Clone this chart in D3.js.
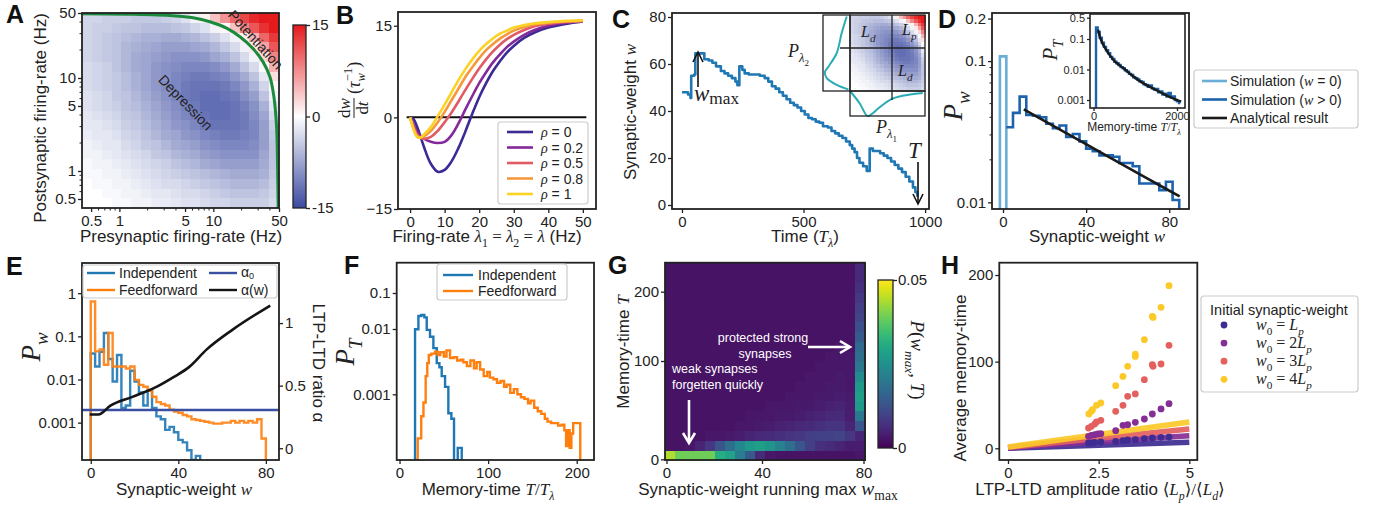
<!DOCTYPE html>
<html><head><meta charset="utf-8">
<script src="https://cdn.jsdelivr.net/npm/d3@7/dist/d3.min.js"></script>
<style>html,body{margin:0;padding:0;background:#fff;}svg{display:block}</style>
</head><body>
<svg id="fig" width="1383" height="508" xmlns="http://www.w3.org/2000/svg"></svg>
<script>
// ======================= DATA =======================
// ---- Panel A : dw/dt over (pre, post) rates, rows top (50 Hz) -> bottom (0.4 Hz)
const aRange = [0.4, 50];
const aTicks = [0.5, 1, 5, 10, 50];
const aTickLabels = ["0.5", "1", "5", "10", "50"];
const aMinorTicks = [0.6, 0.7, 0.8, 0.9, 2, 3, 4, 6, 7, 8, 9, 20, 30, 40];
const aGrid = [
 [-3.5,-3.5,-4,-4,-4,-4.5,-4.5,-4.5,-4,-3.5,-2.5,-1,1,4,7,10,12,14,15,15],
 [-3.5,-4,-4,-4.5,-5,-5,-5.5,-5.5,-5.5,-5,-4.5,-3.5,-2.5,-1,0.5,4,8,11,13.5,15],
 [-3.5,-4,-4.5,-5,-5.5,-6,-6.5,-6.5,-7,-7,-6.5,-6,-5,-4,-2.5,-1,1,5,10,13],
 [-3.5,-4,-4.5,-5,-6,-6.5,-7,-7.5,-8,-8,-8,-7.5,-7,-6,-4.5,-3,-1,1.5,6,11],
 [-3.5,-4,-4.5,-5,-6,-7,-7.5,-8,-8.5,-9,-9,-9,-8.5,-7.5,-6.5,-5,-3,-1,2.5,8],
 [-3,-3.5,-4,-5,-6,-7,-7.5,-8.5,-9,-9.5,-10,-10,-10,-9.5,-8.5,-7,-5,-3,-0.5,5],
 [-3,-3.5,-4,-4.5,-5.5,-6.5,-7.5,-8.5,-9,-10,-10.5,-11,-11,-10.5,-10,-8.5,-7,-5,-2,2],
 [-3,-3.5,-4,-4.5,-5.5,-6.5,-7.5,-8.5,-9.5,-10,-11,-11.5,-11.5,-11.5,-11,-10,-8.5,-6.5,-3.5,0.5],
 [-2.5,-3,-3.5,-4.5,-5,-6,-7,-8,-9,-10,-11,-11.5,-12,-12,-11.5,-11,-9.5,-8,-5,-1],
 [-2.5,-3,-3.5,-4,-5,-5.5,-6.5,-7.5,-8.5,-9.5,-10.5,-11,-12,-12,-12,-11.5,-10.5,-9,-6.5,-2],
 [-2,-2.5,-3,-3.5,-4.5,-5,-6,-7,-8,-9,-10,-10.5,-11.5,-12,-12,-11.5,-11,-9.5,-7.5,-3],
 [-2,-2,-2.5,-3,-4,-4.5,-5.5,-6.5,-7.5,-8.5,-9,-10,-11,-11.5,-11.5,-11.5,-11,-10,-8,-4],
 [-1.5,-2,-2,-2.5,-3.5,-4,-5,-6,-7,-7.5,-8.5,-9,-10,-10.5,-11,-11,-10.5,-10,-8,-4.5],
 [-1,-1.5,-2,-2,-3,-3.5,-4.5,-5,-6,-7,-7.5,-8,-9,-9.5,-10,-10,-10,-9.5,-8,-5],
 [-1,-1,-1.5,-2,-2.5,-3,-3.5,-4.5,-5,-6,-6.5,-7,-8,-8.5,-9,-9,-9,-9,-7.5,-5],
 [-0.5,-1,-1,-1.5,-2,-2.5,-3,-3.5,-4,-5,-5.5,-6,-7,-7.5,-8,-8,-8,-8,-7,-5],
 [-0.5,-0.5,-1,-1,-1.5,-2,-2.5,-3,-3.5,-4,-4.5,-5,-5.5,-6,-6.5,-7,-7,-7,-6.5,-4.5],
 [0,-0.5,-0.5,-1,-1,-1.5,-2,-2.5,-3,-3,-3.5,-4,-4.5,-5,-5.5,-6,-6,-6,-5.5,-4],
 [0,0,-0.5,-0.5,-1,-1,-1.5,-2,-2,-2.5,-3,-3,-3.5,-4,-4.5,-5,-5,-5,-4.5,-3.5],
 [0,0,0,-0.5,-0.5,-1,-1,-1.5,-1.5,-2,-2.5,-2.5,-3,-3.5,-3.5,-4,-4,-4,-4,-3]
];
const aZeroPre  = [0.4, 1.4, 3.7, 6.1, 9.2, 14, 19.2, 26.4, 33.7, 40, 44.1, 47.1, 48.3, 49];
const aZeroPost = [49, 48.4, 46.8, 44.5, 40.3, 34.2, 27.8, 20.8, 15, 10.3, 6.3, 3.0, 1.1, 0.4];
const aCbarTicks = [-15, 0, 15];
const aCbarLabels = ["-15", "0", "15"];

// ---- Panel B
const bRate = [0,1,2,3,4,6,8,10,12,14,16,18,20,22,24,26,28,30,33,36,40,45,50];
const bRho = ["0", "0.2", "0.5", "0.8", "1"];
const bCurves = [
 [0,-0.3,-1.5,-3.1,-4.8,-7.6,-8.9,-8.6,-7.2,-5,-2.3,0.6,3.3,5.6,7.6,9.2,10.6,11.7,13,13.9,14.7,15.3,15.7],
 [0,-1.2,-2.3,-3,-3.5,-4,-4.2,-4,-2.9,-1,1.3,3.5,5.6,7.4,9,10.3,11.5,12.4,13.5,14.3,15,15.5,15.8],
 [0,-1.5,-2.8,-3.4,-3.5,-3.2,-2.2,-0.8,0.8,2.6,4.5,6.3,8,9.5,10.8,11.9,12.8,13.5,14.3,14.9,15.3,15.6,15.8],
 [0,-1.8,-3,-3.3,-3.1,-2.2,-0.8,0.9,2.8,4.7,6.6,8.2,9.7,11,12,12.9,13.6,14.2,14.8,15.2,15.5,15.7,15.8],
 [0,-2,-3.2,-3.3,-2.8,-1.6,0.2,2.1,4.1,6.1,7.9,9.5,10.9,12,12.9,13.7,14.2,14.7,15.1,15.4,15.6,15.8,15.9]
];
const bXTicks = [0, 10, 20, 30, 40, 50];
const bYTicks = [-15, 0, 15];
const bZeroSpan = [-1, 51];

// ---- Panel C
const cTime = [0,15,25,35,38,50,55,62,85,92,110,125,140,160,175,190,205,220,228,236,248,258,275,300,320,340,355,370,385,400,415,430,445,460,475,490,505,520,535,550,565,580,600,615,630,645,660,675,690,700,710,720,730,745,760,772,785,800,815,830,845,860,875,890,905,920,935,950,960,968];
const cWeight = [48,48,47,45.5,55,55.5,64.5,64.5,64.5,62,61.5,60.5,59,57,56,55,54,52.5,51,59,57.5,56,55.5,55.5,55,54,52.5,50.5,49.5,48,46.5,45,43.5,42.5,41.5,40,38.5,37,36.5,35.5,35,33.5,33,31.5,30.5,29.5,28.5,27,25.5,24,22.5,20,18,16.5,14.5,24,23,23,22,21,20,18.5,17,15.5,14,12,10,7.5,5.5,3.5];
const cXTicks = [0, 500, 1000];
const cYTicks = [0, 20, 40, 60, 80];
const cPl1U = [0, 0.13, 0.22, 0.25, 0.3, 0.4, 0.57, 0.8, 0.97];
const cPl1D = [0, 0.5, 0.97, 1.0, 0.9, 0.64, 0.3, 0.14, 0.08];
const cPl2V = [0.02, 0.24, 0.5, 0.68, 0.75, 0.83, 0.92, 0.98];
const cPl2D = [0.12, 0.31, 0.49, 0.8, 0.93, 0.86, 0.49, 0.06];

// ---- Panel D
const dZeroEdges = [-1.5, 1.6];
const dZeroValue = 0.108;
const dEdges = [1.6,4.8,8,11.2,14.4,17.6,20.8,24,27.2,30.4,33.6,36.8,40,43.2,46.4,49.6,52.8,56,59.2,62.4,65.6,68.8,72,75.2,78.4,81.6,84.8];
const dValues = [0.034,0.043,0.056,0.0415,0.041,0.040,0.036,0.0335,0.035,0.029,0.0305,0.027,0.024,0.023,0.0215,0.0215,0.021,0.019,0.019,0.018,0.0136,0.0136,0.0136,0.0122,0.014,0.0104];
const dFitW = [10, 30, 50, 70, 85];
const dFitP = [0.0455, 0.0312, 0.0213, 0.0146, 0.011];
const dXTicks = [0, 40, 80];
const dYTicks = [0.01, 0.1, 0.2];
const dYLabels = ["0.01", "0.1", "0.2"];
const dYMinor = [0.02,0.03,0.04,0.05,0.06,0.07,0.08,0.09];
const dInT = [60,100,150,200,250,300,350,400,450,500,550,600,650,700,750,800,850,900,950,1000,1050,1100,1150,1200,1250,1300,1350,1400,1450,1500,1550,1600,1650,1700,1750,1800,1850,1900,1950,2000,2050,2080];
const dInP = [0.24,0.17,0.11,0.075,0.055,0.043,0.034,0.026,0.022,0.018,0.016,0.014,0.012,0.011,0.0095,0.0085,0.0072,0.0066,0.0056,0.0052,0.0047,0.0041,0.0039,0.0033,0.0031,0.0027,0.0030,0.0024,0.0022,0.0023,0.0018,0.0019,0.0015,0.0016,0.0013,0.0017,0.0012,0.0013,0.0010,0.0009,0.0008];
const dInFitT = [110,150,200,300,400,500,600,700,800,900,1000,1200,1400,1600,1800,2000,2100];
const dInFitP = [0.2,0.12,0.08,0.045,0.028,0.019,0.0145,0.0115,0.0088,0.0068,0.0053,0.0035,0.0025,0.0018,0.0013,0.001,0.00088];
const dInYTicks = [0.5, 0.1, 0.01, 0.001];
const dInYLabels = ["0.5", "0.1", "0.01", "0.001"];
const dInXTicks = [0, 2000];

// ---- Panel E
const eBinWidth = 2;
const eIndependent = [0.04,0.02,0.044,0.12,0.03,0.009,0.037,0.0022,0.0025,0.016,0.009,0.005,0.0025,0.0057,0.0022,0.0014,0.0012,0.00068,0.0008,0.0006,0.0004,0.00035,0.00023,0.00013,0.00017];
const eFeedforward = [0.64,0.045,0.05,0.022,0.12,0.02,0.02,0.02,0.018,0.02,0.0098,0.0075,0.0068,0.0055,0.004,0.003,0.0027,0.0025,0.002,0.0018,0.0017,0.0015,0.0014,0.0012,0.00115,0.0011,0.00105,0.001,0.00095,0.00095,0.001,0.001,0.0011,0.001,0.0011,0.001,0.0011,0.001,0.0012,0.00043];
const eAlpha0 = 0.306;
const eAlphaW = [-0.5, 3.5, 9, 19, 30, 38, 45, 53, 65, 82];
const eAlpha  = [0.27, 0.27, 0.34, 0.41, 0.49, 0.57, 0.65, 0.79, 0.95, 1.14];
const eXTicks = [0, 40, 80];
const eYTicks = [1, 0.1, 0.01, 0.001];
const eYLabels = ["1", "0.1", "0.01", "0.001"];
const eY2Ticks = [0, 0.5, 1];

// ---- Panel F
const fIndT = [17.5,21.3,24.5,28,30.7,34.4,38.2,42,45,47.6,51.4,55.1,58.5,61.5];
const fIndP = [0.0099,0.023,0.0245,0.021,0.0097,0.0076,0.0051,0.0030,0.0026,0.0019,0.0013,0.00051,0.00042];
const fIndBlipT = [65.7, 70.2];
const fIndBlipP = 0.00015;
const fFfT = [20.5,24.5,27,29.5,31.3,33,36,40,43,46,50,53,57,61,65,69,72,76,80,84,87,91,95,99,102,106,110,114,118,121,125,129,133,137,141,145,148,152,156,160,164,167,171,175,179,183,186,188,190,192,194,196,200,204];
const fFfP = [0.00021,0.00046,0.00075,0.0019,0.0030,0.0040,0.0042,0.0045,0.0040,0.0044,0.0038,0.0047,0.0036,0.0037,0.0033,0.0034,0.0031,0.0027,0.0033,0.0025,0.0031,0.0024,0.0019,0.0022,0.0018,0.0017,0.0015,0.0016,0.0013,0.0014,0.00105,0.0012,0.001,0.0009,0.00085,0.00073,0.0008,0.00062,0.00055,0.0005,0.00042,0.00038,0.00036,0.00036,0.00033,0.00034,0.00028,0.00016,0.00028,0.00015,0.00025,0.00036,0.00036];
const fXTicks = [0, 100, 200];
const fYTicks = [0.1, 0.01, 0.001];
const fYLabels = ["0.1", "0.01", "0.001"];

// ---- Panel G : P(w_max, T) in units of 0.001, rows bottom (T=0) -> top
const gGrid = [
 [44,39,39,39,39,31,29,21,14,6,3,2.5,2.5,2.5,2.5,2.5,2.5,2.5,2.5,3],
 [2.5,2.5,3,5,8,13,18,23,27,28,26,22,18,13,9,7,6,5,4,4],
 [2.5,2.5,2.5,2.5,3,3,3.5,4,5,5.5,6,7,7.5,8,9,9.5,9.5,10,8,5],
 [2.5,2.5,2.5,2.5,2.5,2.5,2.5,3,3,3.5,4,4.5,5,5.5,6,7,7.5,7.5,5,13],
 [2.5,2.5,2.5,2.5,2.5,2.5,2.5,2.5,3,3,3,3.5,3.5,4,4.5,5,5.5,6,4,20],
 [2.5,2.5,2.5,2.5,2.5,2.5,2.5,2.5,2.5,2.5,3,3,3,3.5,3.5,4,4.5,5,4,27],
 [2.5,2.5,2.5,2.5,2.5,2.5,2.5,2.5,2.5,2.5,2.5,2.5,3,3,3,3.5,3.5,4,3.5,28],
 [2.5,2.5,2.5,2.5,2.5,2.5,2.5,2.5,2.5,2.5,2.5,2.5,2.5,3,3,3,3.5,3.5,3,27],
 [2.5,2.5,2.5,2.5,2.5,2.5,2.5,2.5,2.5,2.5,2.5,2.5,2.5,2.5,3,3,3,3.5,3,24],
 [2.5,2.5,2.5,2.5,2.5,2.5,2.5,2.5,2.5,2.5,2.5,2.5,2.5,2.5,2.5,3,3,3,3,20],
 [2.5,2.5,2.5,2.5,2.5,2.5,2.5,2.5,2.5,2.5,2.5,2.5,2.5,2.5,2.5,2.5,3,3,3,18],
 [2.5,2.5,2.5,2.5,2.5,2.5,2.5,2.5,2.5,2.5,2.5,2.5,2.5,2.5,2.5,2.5,2.5,3,2.5,17],
 [2.5,2.5,2.5,2.5,2.5,2.5,2.5,2.5,2.5,2.5,2.5,2.5,2.5,2.5,2.5,2.5,2.5,2.5,2.5,14],
 [2.5,2.5,2.5,2.5,2.5,2.5,2.5,2.5,2.5,2.5,2.5,2.5,2.5,2.5,2.5,2.5,2.5,2.5,2.5,12],
 [2.5,2.5,2.5,2.5,2.5,2.5,2.5,2.5,2.5,2.5,2.5,2.5,2.5,2.5,2.5,2.5,2.5,2.5,2.5,10],
 [2.5,2.5,2.5,2.5,2.5,2.5,2.5,2.5,2.5,2.5,2.5,2.5,2.5,2.5,2.5,2.5,2.5,2.5,2.5,9],
 [2.5,2.5,2.5,2.5,2.5,2.5,2.5,2.5,2.5,2.5,2.5,2.5,2.5,2.5,2.5,2.5,2.5,2.5,2.5,8],
 [2.5,2.5,2.5,2.5,2.5,2.5,2.5,2.5,2.5,2.5,2.5,2.5,2.5,2.5,2.5,2.5,2.5,2.5,2.5,7],
 [2.5,2.5,2.5,2.5,2.5,2.5,2.5,2.5,2.5,2.5,2.5,2.5,2.5,2.5,2.5,2.5,2.5,2.5,2.5,6],
 [2.5,2.5,2.5,2.5,2.5,2.5,2.5,2.5,2.5,2.5,2.5,2.5,2.5,2.5,2.5,2.5,2.5,2.5,2.5,6]
];
const gXTicks = [0, 40, 80];
const gYTicks = [0, 100, 200];
const gCbarTicks = [0, 50];
const gCbarLabels = ["0", "0.05"];

// ---- Panel H
const hSeriesNames = ["L", "2L", "3L", "4L"];
const hX = [
 [2.22,2.30,2.39,2.56,2.97,3.17,3.30,3.51,3.76,3.98,4.22,4.44],
 [2.22,2.30,2.39,2.48,2.56,2.97,3.17,3.30,3.51,3.76,3.98,4.22,4.44],
 [2.22,2.30,2.39,2.44,2.56,2.97,3.17,3.30,3.51,3.76,3.98,4.0,4.22,4.44],
 [2.23,2.30,2.33,2.44,2.56,2.97,3.17,3.30,3.51,3.51,3.76,3.98,4.0,4.22,4.44]
];
const hY = [
 [6.1,6.1,6.9,7.3,8.1,8.8,9.6,10,11.1,11.9,12.7,13],
 [13.8,15,15.7,16.5,16.9,20.3,26.5,27.2,30,33.8,39.6,45.4,51.5],
 [23.4,25.4,28,30.4,32.3,42.7,49.6,60,62.7,79.2,96.5,94.6,97.3,118.9],
 [39.6,42.7,44.6,49.6,52.3,72.3,83,94.6,106,108.8,125.4,152.3,151,162.7,187.7]
];
const hLineX = [0, 5];
const hLineY = [[0, 6.9], [0.5, 14.6], [1, 22.3], [1.5, 30.4]];
const hXTicks = [0, 2.5, 5];
const hXLabels = ["0", "2.5", "5"];
const hYTicks = [0, 100, 200];

// ======================= STYLE =======================
const SANS = "'Liberation Sans', Arial, Helvetica, sans-serif";
const SERIF = "'Liberation Serif', 'DejaVu Serif', 'Times New Roman', serif";
const INK = "#222";
const bColors = ["#3c2a95", "#84299a", "#e05b66", "#f6993c", "#fcd225"];
const hColors = ["#3e2c93", "#852e96", "#e3605e", "#fbc928"];
const BLUE = "#1f77b4", ORANGE = "#ff7f0e";
const intFmt = d3.format('d');

// ======================= HELPERS =======================
const svg = d3.select('#fig');
svg.append('rect').attr('width', 1383).attr('height', 508).attr('fill', '#fff');
const defs = svg.append('defs');
let clipN = 0;
function clip(x0, y0, x1, y1) {
  const id = 'clip' + (clipN++);
  defs.append('clipPath').attr('id', id).append('rect')
    .attr('x', x0).attr('y', y0).attr('width', x1 - x0).attr('height', y1 - y0);
  return `url(#${id})`;
}
function frame(g, x0, y0, x1, y1, w = 1.8) {
  g.append('rect').attr('x', x0).attr('y', y0).attr('width', x1 - x0).attr('height', y1 - y0)
    .attr('fill', 'none').attr('stroke', INK).attr('stroke-width', w);
}
function axis(g, gen, tx, ty, fs = 15) {
  const a = g.append('g').attr('transform', `translate(${tx},${ty})`).call(gen);
  a.attr('font-size', fs).attr('font-family', SANS);
  a.select('.domain').remove();
  a.selectAll('.tick line').attr('stroke', INK).attr('stroke-width', 1.3);
  a.selectAll('.tick text').attr('fill', INK);
  return a;
}
function rich(parent, x, y, parts, o = {}) {
  const fs = o.size || 15;
  const t = parent.append('text').attr('x', x).attr('y', y)
    .attr('font-size', fs).attr('font-family', o.serif ? SERIF : SANS)
    .attr('text-anchor', o.anchor || 'start').attr('fill', o.fill || INK);
  if (o.weight) t.attr('font-weight', o.weight);
  let cur = 0;
  parts.forEach(p => {
    if (typeof p === 'string') p = { t: p };
    const off = p.off !== undefined ? p.off * fs : p.sub ? 0.3 * fs : p.sup ? -0.42 * fs : 0;
    const ts = t.append('tspan').text(p.t).attr('dy', (off - cur).toFixed(2));
    cur = off;
    if (p.k) ts.attr('font-size', fs * p.k);
    else if (p.sub || p.sup) ts.attr('font-size', fs * 0.7);
    if (p.it) ts.attr('font-style', 'italic');
    if (p.m) ts.attr('font-family', SERIF);
    if (p.s) ts.attr('font-family', SANS);
    if (p.dx) ts.attr('dx', p.dx);
  });
  return t;
}
const M = (t, e = {}) => Object.assign({ t, m: 1, it: 1 }, e);
function rotLabel(parent, x, y, angle, parts, o) {
  const g = parent.append('g').attr('transform', `translate(${x},${y}) rotate(${angle})`);
  return rich(g, 0, 0, parts, Object.assign({ anchor: 'middle' }, o));
}
function panelLetter(t, x, y) {
  svg.append('text').attr('x', x).attr('y', y).text(t).attr('font-family', SANS)
    .attr('font-weight', 'bold').attr('font-size', 25).attr('fill', '#111');
}
function stepPts(edges, vals, floor) {
  const pts = [[edges[0], floor]];
  vals.forEach((v, i) => { pts.push([edges[i], v]); pts.push([edges[i + 1], v]); });
  pts.push([edges[edges.length - 1], floor]);
  return pts;
}
function hLine(g, x1, x2, y, color, w) {
  g.append('line').attr('x1', x1).attr('x2', x2).attr('y1', y).attr('y2', y)
    .attr('stroke', color).attr('stroke-width', w);
}

// ======================= PANEL A =======================
{
  const g = svg.append('g');
  const x = d3.scaleLog().domain(aRange).range([82, 279]);
  const y = d3.scaleLog().domain(aRange).range([208, 13]);
  const col = d3.scaleLinear().domain([-15, 0, 15]).range(["#3b4aa0", "#ffffff", "#e41a1c"]).clamp(true);
  const n = aGrid.length;
  const edges = d3.range(n + 1).map(k => aRange[0] * Math.pow(aRange[1] / aRange[0], k / n));
  const cells = [];
  aGrid.forEach((row, r) => row.forEach((v, c) => cells.push({ r: n - 1 - r, c, v })));
  g.append('g').attr('clip-path', clip(82, 13, 279, 208)).attr('shape-rendering', 'crispEdges')
    .selectAll('rect').data(cells).join('rect')
    .attr('x', d => x(edges[d.c])).attr('y', d => y(edges[d.r + 1]))
    .attr('width', d => x(edges[d.c + 1]) - x(edges[d.c]) + 0.7)
    .attr('height', d => y(edges[d.r]) - y(edges[d.r + 1]) + 0.7)
    .attr('fill', d => col(d.v));
  g.append('path').attr('clip-path', clip(82, 13, 280, 208))
    .datum(aZeroPre.map((p, i) => [p, aZeroPost[i]]))
    .attr('d', d3.line().x(d => x(d[0])).y(d => y(d[1])).curve(d3.curveCatmullRom))
    .attr('fill', 'none').attr('stroke', '#1b8a3c').attr('stroke-width', 3);
  g.append('text').attr('transform', 'translate(182,106) rotate(46)').attr('text-anchor', 'middle')
    .attr('font-family', SANS).attr('font-size', 14).attr('fill', INK).text('Depression');
  g.append('text').attr('transform', 'translate(252,43) rotate(48)').attr('text-anchor', 'middle')
    .attr('font-family', SANS).attr('font-size', 14).attr('fill', INK).text('Potentiation');
  frame(g, 82, 13, 279, 208);
  axis(g, d3.axisBottom(x).tickValues(aTicks).tickFormat((d, i) => aTickLabels[i]).tickSize(4).tickPadding(3), 0, 208);
  axis(g, d3.axisLeft(y).tickValues(aTicks).tickFormat((d, i) => aTickLabels[i]).tickSize(4).tickPadding(2), 82, 0);
  aMinorTicks.forEach(v => {
    g.append('line').attr('x1', x(v)).attr('x2', x(v)).attr('y1', 208).attr('y2', 210.5).attr('stroke', INK).attr('stroke-width', 1);
    g.append('line').attr('y1', y(v)).attr('y2', y(v)).attr('x1', 79.5).attr('x2', 82).attr('stroke', INK).attr('stroke-width', 1);
  });
  rich(g, 181, 242, ['Presynaptic firing-rate (Hz)'], { size: 17, anchor: 'middle' });
  rotLabel(g, 46, 118, -90, ['Postsynaptic firing-rate (Hz)'], { size: 17 });
  // colorbar
  const cb = d3.scaleLinear().domain([-15, 15]).range([208, 25]);
  const grad = defs.append('linearGradient').attr('id', 'gradA').attr('x1', 0).attr('y1', 1).attr('x2', 0).attr('y2', 0);
  d3.range(0, 1.0001, 0.05).forEach(t => grad.append('stop').attr('offset', t).attr('stop-color', col(-15 + 30 * t)));
  g.append('rect').attr('x', 293).attr('y', 25).attr('width', 13).attr('height', 183).attr('fill', 'url(#gradA)');
  frame(g, 293, 25, 306, 208, 1.3);
  axis(g, d3.axisRight(cb).tickValues(aCbarTicks).tickFormat((d, i) => aCbarLabels[i]).tickSize(4).tickPadding(2), 306, 0);
}
panelLetter('A', 6, 23);

// ======================= PANEL B =======================
{
  const g = svg.append('g');
  const x = d3.scaleLinear().domain([-3.5, 53.8]).range([398, 596]);
  const y = d3.scaleLinear().domain([-15, 17.25]).range([209, 12]);
  const cp = clip(398, 12, 596, 209);
  g.append('line').attr('x1', x(bZeroSpan[0])).attr('x2', x(bZeroSpan[1])).attr('y1', y(0)).attr('y2', y(0))
    .attr('stroke', '#111').attr('stroke-width', 2);
  const line = d3.line().x((d, i) => x(bRate[i])).y(d => y(d)).curve(d3.curveCatmullRom);
  bCurves.forEach((c, k) => {
    g.append('path').attr('clip-path', cp).datum(c).attr('d', line).attr('fill', 'none')
      .attr('stroke', bColors[k]).attr('stroke-width', 2.6);
  });
  frame(g, 398, 12, 596, 209);
  axis(g, d3.axisBottom(x).tickValues(bXTicks).tickFormat(intFmt).tickSize(4).tickPadding(3), 0, 209);
  axis(g, d3.axisLeft(y).tickValues(bYTicks).tickFormat(intFmt).tickSize(4).tickPadding(2), 398, 0);
  // legend
  g.append('rect').attr('x', 498).attr('y', 122).attr('width', 90).attr('height', 82).attr('rx', 3)
    .attr('fill', '#fff').attr('fill-opacity', 0.9).attr('stroke', '#ccc').attr('stroke-width', 1.2);
  bRho.forEach((r, k) => {
    const yy = 132 + 15.5 * k;
    hLine(g, 507, 533, yy, bColors[k], 2.6);
    rich(g, 541, yy + 5, [M('ρ'), ' = ' + r], { size: 14 });
  });
  // y label: dw/dt (tau_w^-1)
  const gl = g.append('g').attr('transform', 'translate(354,108) rotate(-90)');
  gl.append('line').attr('x1', -10).attr('x2', 10).attr('y1', 0).attr('y2', 0).attr('stroke', INK).attr('stroke-width', 1);
  rich(gl, 0, -4, [{ t: 'd', m: 1 }, M('w')], { size: 17, anchor: 'middle' });
  rich(gl, 0, 14, [{ t: 'd', m: 1 }, M('t')], { size: 17, anchor: 'middle' });
  rich(gl, 14, 6, [{ t: '(', m: 1 }, M('τ'), M('w', { sub: 1 }), { t: '−1', m: 1, sup: 1, dx: -8 }, { t: ')', m: 1 }], { size: 18 });
  rich(g, 487, 242, ['Firing-rate ', M('λ'), { t: '1', m: 1, sub: 1 }, { t: ' = ', m: 1 }, M('λ'), { t: '2', m: 1, sub: 1 }, { t: ' = ', m: 1 }, M('λ'), ' (Hz)'], { size: 17, anchor: 'middle' });
}
panelLetter('B', 336, 24);

// ======================= PANEL C =======================
{
  const g = svg.append('g');
  const x = d3.scaleLinear().domain([-41, 1016]).range([672, 929]);
  const y = d3.scaleLinear().domain([-1.7, 81.7]).range([209, 13]);
  g.append('path').attr('clip-path', clip(672, 13, 929, 209))
    .datum(cTime.map((t, i) => [t, cWeight[i]]))
    .attr('d', d3.line().x(d => x(d[0])).y(d => y(d[1])).curve(d3.curveStepAfter))
    .attr('fill', 'none').attr('stroke', BLUE).attr('stroke-width', 2.6).attr('stroke-linejoin', 'round');
  frame(g, 672, 13, 929, 209);
  axis(g, d3.axisBottom(x).tickValues(cXTicks).tickFormat(intFmt).tickSize(4).tickPadding(3), 0, 209);
  axis(g, d3.axisLeft(y).tickValues(cYTicks).tickFormat(intFmt).tickSize(4).tickPadding(2), 672, 0);
  rotLabel(g, 636, 112, -90, ['Synaptic-weight ', M('w')], { size: 17 });
  rich(g, 805, 242, ['Time (', M('T'), M('λ', { sub: 1 }), ')'], { size: 17, anchor: 'middle' });
  // arrows
  g.append('line').attr('x1', 698).attr('x2', 698).attr('y1', 87).attr('y2', 53).attr('stroke', '#111').attr('stroke-width', 1.6);
  g.append('path').attr('d', 'M693,62 L698,52 L703,62').attr('fill', 'none').attr('stroke', '#111').attr('stroke-width', 1.6);
  rich(g, 694, 101, [M('w', { k: 1 }), { t: 'max', m: 1, sub: 1, k: 0.75, off: 0.12 }], { size: 23 });
  g.append('line').attr('x1', 918).attr('x2', 918).attr('y1', 162).attr('y2', 203).attr('stroke', '#111').attr('stroke-width', 1.6);
  g.append('path').attr('d', 'M913,194 L918,204 L923,194').attr('fill', 'none').attr('stroke', '#111').attr('stroke-width', 1.6);
  rich(g, 908, 158, [M('T')], { size: 23 });
  // inset schematic
  const ib = d3.scaleBand().domain(d3.range(20)).range([850, 925]);
  const ibY = d3.scaleBand().domain(d3.range(20)).range([15, 91]);
  const col = d3.scaleLinear().domain([-15, 0, 15]).range(["#3b4aa0", "#ffffff", "#e41a1c"]).clamp(true);
  const cells = [];
  aGrid.forEach((row, r) => row.forEach((v, c) => cells.push({ r, c, v })));
  g.append('g').attr('shape-rendering', 'crispEdges').selectAll('rect').data(cells).join('rect')
    .attr('x', d => ib(d.c)).attr('y', d => ibY(d.r)).attr('width', ib.bandwidth() + 0.5).attr('height', ibY.bandwidth() + 0.5)
    .attr('fill', d => col(d.v));
  const p1x = d3.scaleLinear().domain([0, 1]).range([850, 925]);
  const p1y = d3.scaleLinear().domain([0, 1]).range([91, 116]);
  g.append('path').datum(cPl1U.map((u, i) => [u, cPl1D[i]]))
    .attr('d', d3.line().x(d => p1x(d[0])).y(d => p1y(d[1])).curve(d3.curveCatmullRom))
    .attr('fill', 'none').attr('stroke', '#2aabb5').attr('stroke-width', 2);
  const p2x = d3.scaleLinear().domain([0, 1]).range([850, 823]);
  const p2y = d3.scaleLinear().domain([0, 1]).range([15, 91]);
  g.append('path').datum(cPl2V.map((v, i) => [v, cPl2D[i]]))
    .attr('d', d3.line().x(d => p2x(d[1])).y(d => p2y(d[0])).curve(d3.curveCatmullRom))
    .attr('fill', 'none').attr('stroke', '#2aabb5').attr('stroke-width', 2);
  const lw = 1.3;
  frame(g, 823, 15, 850, 91, lw);
  frame(g, 850, 15, 925, 91, lw);
  frame(g, 850, 91, 925, 116, lw);
  g.append('line').attr('x1', 892).attr('x2', 892).attr('y1', 15).attr('y2', 100).attr('stroke', INK).attr('stroke-width', lw);
  g.append('line').attr('x1', 840).attr('x2', 925).attr('y1', 48).attr('y2', 48).attr('stroke', INK).attr('stroke-width', lw);
  rich(g, 861, 37, [M('L'), M('d', { sub: 1 })], { size: 16 });
  rich(g, 902, 35, [M('L'), M('p', { sub: 1 })], { size: 16 });
  rich(g, 898, 76, [M('L'), M('d', { sub: 1 })], { size: 16 });
  rich(g, 788, 57, [M('P'), M('λ', { sub: 1 }), { t: '2', m: 1, off: 0.5, k: 0.5 }], { size: 18 });
  rich(g, 876, 133, [M('P'), M('λ', { sub: 1 }), { t: '1', m: 1, off: 0.5, k: 0.5 }], { size: 18 });
}
panelLetter('C', 612, 28);

// ======================= PANEL D =======================
{
  const g = svg.append('g');
  const x = d3.scaleLinear().domain([-5.3, 89.5]).range([992, 1189]);
  const y = d3.scaleLog().domain([0.00897, 0.219]).range([209, 13]).clamp(true);
  const cp = clip(992, 13, 1189, 209);
  const ln = d3.line().x(d => x(d[0])).y(d => y(d[1]));
  g.append('path').attr('clip-path', cp).datum(stepPts(dZeroEdges, [dZeroValue], 1e-6))
    .attr('d', ln).attr('fill', 'none').attr('stroke', '#6aaed6').attr('stroke-width', 2.6);
  g.append('path').attr('clip-path', cp).datum(stepPts(dEdges, dValues, 1e-6).slice(1))
    .attr('d', ln).attr('fill', 'none').attr('stroke', '#1c62ad').attr('stroke-width', 2.6);
  g.append('path').attr('clip-path', cp).datum(dFitW.map((w, i) => [w, dFitP[i]]))
    .attr('d', ln.curve(d3.curveMonotoneX)).attr('fill', 'none').attr('stroke', '#1a1a1a').attr('stroke-width', 2.6);
  frame(g, 992, 13, 1189, 209);
  axis(g, d3.axisBottom(x).tickValues(dXTicks).tickFormat(intFmt).tickSize(4).tickPadding(3), 0, 209);
  axis(g, d3.axisLeft(y).tickValues(dYTicks).tickFormat((d, i) => dYLabels[i]).tickSize(4).tickPadding(2), 992, 0);
  dYMinor.forEach(v => g.append('line').attr('x1', 989.5).attr('x2', 992).attr('y1', y(v)).attr('y2', y(v)).attr('stroke', INK).attr('stroke-width', 1));
  rotLabel(g, 962, 106, -90, [M('P'), M('w', { sub: 1 })], { size: 27 });
  rich(g, 1097, 242, ['Synaptic-weight ', M('w')], { size: 17, anchor: 'middle' });
  // inset
  const ix = d3.scaleLinear().domain([-84, 2192]).range([1090, 1185]);
  const iy = d3.scaleLog().domain([0.000547, 0.66]).range([108, 14]).clamp(true);
  g.append('rect').attr('x', 1090).attr('y', 14).attr('width', 95).attr('height', 94).attr('fill', '#fff');
  const icp = clip(1090, 14, 1185, 108);
  const iln = d3.line().x(d => ix(d[0])).y(d => iy(d[1]));
  const bluePts = [[dInT[0], 1e-7]];
  dInP.forEach((p, i) => { bluePts.push([dInT[i], p]); bluePts.push([dInT[i + 1], p]); });
  g.append('path').attr('clip-path', icp).datum(bluePts).attr('d', iln)
    .attr('fill', 'none').attr('stroke', '#1c62ad').attr('stroke-width', 2.4);
  g.append('path').attr('clip-path', icp).datum(dInFitT.map((t, i) => [t, dInFitP[i]]))
    .attr('d', iln.curve(d3.curveMonotoneX)).attr('fill', 'none').attr('stroke', '#1a1a1a').attr('stroke-width', 2.4);
  frame(g, 1090, 14, 1185, 108, 1.6);
  axis(g, d3.axisLeft(iy).tickValues(dInYTicks).tickFormat((d, i) => dInYLabels[i]).tickSize(3).tickPadding(2), 1090, 0, 11);
  axis(g, d3.axisBottom(ix).tickValues(dInXTicks).tickFormat(intFmt).tickSize(3).tickPadding(1), 0, 108, 11);
  rotLabel(g, 1057, 50, -90, [M('P'), M('T', { sub: 1 })], { size: 21 });
  rich(g, 1134, 131, ['Memory-time ', M('T'), { t: '/', m: 1 }, M('T'), M('λ', { sub: 1 })], { size: 12, anchor: 'middle' });
  // legend
  g.append('rect').attr('x', 1194).attr('y', 70).attr('width', 164).attr('height', 58).attr('rx', 3)
    .attr('fill', '#fff').attr('stroke', '#ccc').attr('stroke-width', 1.2);
  const leg = [['#6aaed6', ['Simulation (', M('w'), ' = 0)']], ['#1c62ad', ['Simulation (', M('w'), ' > 0)']], ['#1a1a1a', ['Analytical result']]];
  leg.forEach((L, k) => {
    const yy = 81 + 18.5 * k;
    hLine(g, 1202, 1227, yy, L[0], 2.6);
    rich(g, 1230, yy + 5, L[1], { size: 14 });
  });
}
panelLetter('D', 938, 28);

// ======================= PANEL E =======================
{
  const g = svg.append('g');
  const x = d3.scaleLinear().domain([-4, 86]).range([82, 279]);
  const y = d3.scaleLog().domain([Math.pow(10, -3.865), Math.pow(10, 0.70)]).range([460, 263]).clamp(true);
  const y2 = d3.scaleLinear().domain([-0.094, 1.48]).range([460, 263]);
  const cp = clip(82, 263, 279, 460);
  const ln = d3.line().x(d => x(d[0])).y(d => y(d[1]));
  const edgesOf = vals => d3.range(vals.length + 1).map(i => i * eBinWidth);
  g.append('path').attr('clip-path', cp).datum(stepPts(edgesOf(eIndependent), eIndependent, 1e-7))
    .attr('d', ln).attr('fill', 'none').attr('stroke', BLUE).attr('stroke-width', 2.4).attr('stroke-opacity', 0.9);
  g.append('path').attr('clip-path', cp).datum(stepPts(edgesOf(eFeedforward), eFeedforward, 1e-7))
    .attr('d', ln).attr('fill', 'none').attr('stroke', ORANGE).attr('stroke-width', 2.4).attr('stroke-opacity', 0.9);
  hLine(g, 82, 279, y2(eAlpha0), '#3a4fa2', 2.4);
  g.append('path').attr('clip-path', cp).datum(eAlphaW.map((w, i) => [w, eAlpha[i]]))
    .attr('d', d3.line().x(d => x(d[0])).y(d => y2(d[1])).curve(d3.curveMonotoneX))
    .attr('fill', 'none').attr('stroke', '#151515').attr('stroke-width', 2.6);
  frame(g, 82, 263, 279, 460);
  axis(g, d3.axisBottom(x).tickValues(eXTicks).tickFormat(intFmt).tickSize(4).tickPadding(3), 0, 460);
  axis(g, d3.axisLeft(y).tickValues(eYTicks).tickFormat((d, i) => eYLabels[i]).tickSize(4).tickPadding(2), 82, 0);
  axis(g, d3.axisRight(y2).tickValues(eY2Ticks).tickFormat(d3.format('')).tickSize(4).tickPadding(2), 279, 0);
  rotLabel(g, 40, 347, -90, [M('P'), M('w', { sub: 1 })], { size: 27 });
  rotLabel(g, 313, 363, 90, ['LTP-LTD ratio α'], { size: 17 });
  rich(g, 184, 495, ['Synaptic-weight ', M('w')], { size: 17, anchor: 'middle' });
  // legend
  g.append('rect').attr('x', 83).attr('y', 265).attr('width', 194).attr('height', 33).attr('rx', 3)
    .attr('fill', '#fff').attr('fill-opacity', 0.85).attr('stroke', '#ccc').attr('stroke-width', 1.2);
  hLine(g, 87, 115, 273, BLUE, 2.4); rich(g, 119, 278, ['Independent'], { size: 14 });
  hLine(g, 87, 115, 290, ORANGE, 2.4); rich(g, 119, 295, ['Feedforward'], { size: 14 });
  hLine(g, 209, 237, 273, '#3a4fa2', 2.4); rich(g, 241, 277, ['α', { t: '0', off: 0.15, k: 0.65 }], { size: 14 });
  hLine(g, 209, 237, 290, '#151515', 2.4); rich(g, 241, 295, ['α(w)'], { size: 14 });
}
panelLetter('E', 6, 275);

// ======================= PANEL F =======================
{
  const g = svg.append('g');
  const x = d3.scaleLinear().domain([-3.2, 219.5]).range([396.7, 594]);
  const yl = d3.scaleLinear().domain([-4.01, -3, -2, -1, -0.16]).range([460, 394.3, 329, 293, 262.7]).clamp(true);
  const y = v => yl(Math.log10(v));
  const cp = clip(396.7, 262.7, 594, 460);
  const ln = d3.line().x(d => x(d[0])).y(d => y(d[1]));
  g.append('path').attr('clip-path', cp).datum(stepPts(fIndT, fIndP, 1e-7))
    .attr('d', ln).attr('fill', 'none').attr('stroke', BLUE).attr('stroke-width', 2.4);
  g.append('path').attr('clip-path', cp).datum(stepPts(fIndBlipT, [fIndBlipP], 1e-7))
    .attr('d', ln).attr('fill', 'none').attr('stroke', BLUE).attr('stroke-width', 2.4);
  g.append('path').attr('clip-path', cp).datum(stepPts(fFfT, fFfP, 1e-7))
    .attr('d', ln).attr('fill', 'none').attr('stroke', ORANGE).attr('stroke-width', 2.4);
  frame(g, 396.7, 262.7, 594, 460);
  axis(g, d3.axisBottom(x).tickValues(fXTicks).tickFormat(intFmt).tickSize(4).tickPadding(3), 0, 460);
  axis(g, d3.axisLeft(yl).tickValues(fYTicks.map(v => Math.log10(v))).tickFormat((d, i) => fYLabels[i]).tickSize(4).tickPadding(2), 396.7, 0);
  rotLabel(g, 354, 352, -90, [M('P'), M('T', { sub: 1 })], { size: 27 });
  rich(g, 488, 495, ['Memory-time ', M('T'), { t: '/', m: 1 }, M('T'), M('λ', { sub: 1 })], { size: 17, anchor: 'middle' });
  g.append('rect').attr('x', 437).attr('y', 264).attr('width', 130).attr('height', 36).attr('rx', 3)
    .attr('fill', '#fff').attr('stroke', '#ccc').attr('stroke-width', 1.2);
  hLine(g, 443, 473, 275, BLUE, 2.4); rich(g, 478, 280, ['Independent'], { size: 14 });
  hLine(g, 443, 473, 291, ORANGE, 2.4); rich(g, 478, 296, ['Feedforward'], { size: 14 });
}
panelLetter('F', 344, 274);

// ======================= PANEL G =======================
{
  const g = svg.append('g');
  const x = d3.scaleLinear().domain([0, 40, 80]).range([666.5, 762, 863.5]);
  const y = d3.scaleLinear().domain([0, 100, 200, 242]).range([459.3, 361, 291.7, 262.7]);
  const bx = d3.scaleBand().domain(d3.range(20)).range([665, 865]);
  const by = d3.scaleBand().domain(d3.range(20)).range([460, 262.7]);
  const col = v => d3.interpolateViridis(Math.max(0, Math.min(1, v / 50)));
  const cells = [];
  gGrid.forEach((row, r) => row.forEach((v, c) => cells.push({ r, c, v })));
  g.append('g').attr('shape-rendering', 'crispEdges').selectAll('rect').data(cells).join('rect')
    .attr('x', d => bx(d.c)).attr('y', d => by(d.r)).attr('width', bx.bandwidth() + 0.6).attr('height', by.bandwidth() + 0.6)
    .attr('fill', d => col(d.v));
  frame(g, 665, 262.7, 865, 460);
  axis(g, d3.axisBottom(x).tickValues(gXTicks).tickFormat(intFmt).tickSize(4).tickPadding(3), 0, 460);
  axis(g, d3.axisLeft(y).tickValues(gYTicks).tickFormat(intFmt).tickSize(4).tickPadding(2), 665, 0);
  rotLabel(g, 629, 352, -90, ['Memory-time ', M('T')], { size: 17 });
  rich(g, 768, 495, ['Synaptic-weight running max ', M('w', { k: 1.15 }), { t: 'max', m: 1, sub: 1, k: 0.8 }], { size: 17, anchor: 'middle' });
  // annotations
  const W = '#fff';
  rich(g, 763, 342, ['protected strong'], { size: 12.5, anchor: 'middle', fill: W });
  rich(g, 765, 358, ['synapses'], { size: 12.5, anchor: 'middle', fill: W });
  rich(g, 672, 373, ['weak synapses'], { size: 12.5, fill: W });
  rich(g, 672, 389, ['forgetten quickly'], { size: 12.5, fill: W });
  g.append('line').attr('x1', 808).attr('x2', 849).attr('y1', 347).attr('y2', 347).attr('stroke', W).attr('stroke-width', 2.6);
  g.append('path').attr('d', 'M840,341 L850,347 L840,353').attr('fill', 'none').attr('stroke', W).attr('stroke-width', 2.6);
  g.append('line').attr('x1', 689).attr('x2', 689).attr('y1', 400).attr('y2', 442).attr('stroke', W).attr('stroke-width', 2.6);
  g.append('path').attr('d', 'M683,433 L689,443 L695,433').attr('fill', 'none').attr('stroke', W).attr('stroke-width', 2.6);
  // colorbar
  const cb = d3.scaleLinear().domain([0, 50]).range([448, 280]);
  const grad = defs.append('linearGradient').attr('id', 'gradG').attr('x1', 0).attr('y1', 1).attr('x2', 0).attr('y2', 0);
  d3.range(0, 1.0001, 0.05).forEach(t => grad.append('stop').attr('offset', t).attr('stop-color', d3.interpolateViridis(t)));
  g.append('rect').attr('x', 878).attr('y', 280).attr('width', 15).attr('height', 168).attr('fill', 'url(#gradG)');
  frame(g, 878, 280, 893, 448, 1.3);
  axis(g, d3.axisRight(cb).tickValues(gCbarTicks).tickFormat((d, i) => gCbarLabels[i]).tickSize(4).tickPadding(1), 893, 0);
  rotLabel(g, 911, 360, 90, [M('P'), { t: '(', m: 1 }, M('w'), M('max', { sub: 1 }), { t: ', ', m: 1 }, M('T'), { t: ')', m: 1 }], { size: 19 });
}
panelLetter('G', 608, 274);

// ======================= PANEL H =======================
{
  const g = svg.append('g');
  const x = d3.scaleLinear().domain([-0.24, 5.22]).range([999.3, 1197.3]);
  const y = d3.scaleLinear().domain([-13.5, 214.2]).range([460, 262.7]);
  const cp = clip(999.3, 262.7, 1197.3, 460);
  hLineY.forEach((yy, k) => {
    g.append('line').attr('clip-path', cp).attr('x1', x(hLineX[0])).attr('x2', x(hLineX[1]))
      .attr('y1', y(yy[0])).attr('y2', y(yy[1])).attr('stroke', hColors[k]).attr('stroke-width', 5.5)
      .attr('stroke-opacity', 0.92).attr('stroke-linecap', 'butt');
  });
  hX.forEach((xs, k) => {
    g.append('g').selectAll('circle').data(xs.map((v, i) => [v, hY[k][i]])).join('circle')
      .attr('cx', d => x(d[0])).attr('cy', d => y(d[1])).attr('r', 3.4).attr('fill', hColors[k]);
  });
  frame(g, 999.3, 262.7, 1197.3, 460);
  axis(g, d3.axisBottom(x).tickValues(hXTicks).tickFormat((d, i) => hXLabels[i]).tickSize(4).tickPadding(3), 0, 460);
  axis(g, d3.axisLeft(y).tickValues(hYTicks).tickFormat(intFmt).tickSize(4).tickPadding(2), 999.3, 0);
  rotLabel(g, 966, 378, -90, ['Average memory-time'], { size: 17 });
  rich(g, 1100, 495, ['LTP-LTD amplitude ratio ', { t: '⟨', m: 1 }, M('L'), M('p', { sub: 1 }), { t: '⟩/⟨', m: 1 }, M('L'), M('d', { sub: 1 }), { t: '⟩', m: 1 }], { size: 17, anchor: 'middle' });
  // legend
  g.append('rect').attr('x', 1201).attr('y', 296).attr('width', 157).attr('height', 96).attr('rx', 3)
    .attr('fill', '#fff').attr('stroke', '#ccc').attr('stroke-width', 1.2);
  rich(g, 1279, 315, ['Initial synaptic-weight'], { size: 14.5, anchor: 'middle' });
  const mult = ['', '2', '3', '4'];
  hSeriesNames.forEach((nm, k) => {
    const yy = 325 + 18.1 * k;
    g.append('circle').attr('cx', 1224).attr('cy', yy).attr('r', 3.4).attr('fill', hColors[k]);
    rich(g, 1256, yy + 5, [M('w'), { t: '0', m: 1, sub: 1 }, { t: ' = ' + mult[k], m: 1 }, M('L'), M('p', { sub: 1 })], { size: 16 });
  });
}
panelLetter('H', 941, 274);
</script>
</body></html>
